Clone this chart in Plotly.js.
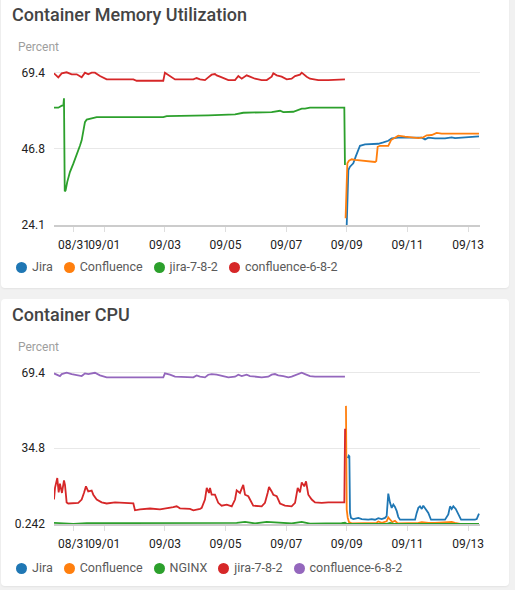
<!DOCTYPE html>
<html>
<head>
<meta charset="utf-8">
<script src="https://cdn.plot.ly/plotly-3.0.1.min.js"></script>
<style>
  html, body {
    margin: 0;
    padding: 0;
    width: 515px;
    height: 590px;
    overflow: hidden;
    background: #f1f1f1;
    font-family: Roboto, sans-serif;
  }
  .card {
    position: absolute;
    left: 1px;
    width: 508px;
    background: #fff;
    border-radius: 4px;
    box-shadow: 0 1px 2px rgba(0, 0, 0, 0.06);
  }
  #mem-card { top: -6px; height: 294px; }
  #cpu-card { top: 299px; height: 287px; }
  .chart { position: absolute; left: 0; top: 0; }
  .legend {
    position: absolute;
    left: 15px;
    display: flex;
    align-items: center;
    font-size: 12.5px;
    line-height: 16px;
    color: #5a5a5a;
    white-space: nowrap;
  }
  #mem-legend { top: 265px; }
  #cpu-legend { top: 261px; }
  .legend .item { display: flex; align-items: center; margin-right: 11px; }
  .legend .dot { width: 11px; height: 11px; border-radius: 50%; margin-right: 5px; }
</style>
</head>
<body>
<div class="card" id="mem-card">
  <div class="chart" id="mem-chart"></div>
  <div class="legend" id="mem-legend"></div>
</div>
<div class="card" id="cpu-card">
  <div class="chart" id="cpu-chart"></div>
  <div class="legend" id="cpu-legend"></div>
</div>
<script>
// Date axis ticks shared by both charts
const dayTicks = ['2019-08-31', '2019-09-01', '2019-09-03', '2019-09-05', '2019-09-07', '2019-09-09', '2019-09-11', '2019-09-13'];
const timeRange = ['2019-08-30 08:12', '2019-09-13 09:24'];

/*
  Container Memory Utilization (percent)
*/
const memJiraTime = ['2019-09-08 23:54', '2019-09-09 01:12', '2019-09-09 02:30', '2019-09-09 05:06', '2019-09-09 07:00', '2019-09-09 08:36',
  '2019-09-09 10:24', '2019-09-09 14:24', '2019-09-10 00:54', '2019-09-10 04:54', '2019-09-10 08:48', '2019-09-10 11:30',
  '2019-09-10 16:42', '2019-09-11 11:18', '2019-09-11 13:54', '2019-09-11 16:30', '2019-09-11 21:48', '2019-09-12 05:42',
  '2019-09-12 11:00', '2019-09-12 13:36', '2019-09-13 00:06', '2019-09-13 08:36'];
const memJiraPct = [24.1, 40.4, 41.4, 42.4, 44.4, 45.8, 47.6, 48.0, 48.2, 48.6, 49.1, 49.8, 50.0, 50.0, 49.5, 50.0, 49.8, 49.8, 50.1, 49.9, 50.3, 50.4];

const memConfTime = ['2019-09-08 23:00', '2019-09-09 00:24', '2019-09-09 01:42', '2019-09-09 03:48', '2019-09-09 06:30', '2019-09-09 11:48',
  '2019-09-09 17:00', '2019-09-09 22:18', '2019-09-09 23:18', '2019-09-10 00:24', '2019-09-10 02:12', '2019-09-10 08:48',
  '2019-09-10 11:00', '2019-09-10 14:06', '2019-09-10 16:42', '2019-09-10 22:00', '2019-09-11 08:36', '2019-09-11 12:30',
  '2019-09-11 15:12', '2019-09-11 19:12', '2019-09-11 23:06', '2019-09-12 03:06', '2019-09-12 08:18', '2019-09-12 09:42',
  '2019-09-12 13:36', '2019-09-13 08:36'];
const memConfPct = [26.1, 42.4, 43.2, 43.6, 43.4, 43.2, 42.9, 42.8, 43.1, 47.3, 47.6, 47.6, 49.3, 50.0, 50.6, 50.3, 49.9, 50.1,
  50.7, 50.8, 51.4, 51.2, 51.2, 51.0, 51.2, 51.2];

const memJira782Time = ['2019-08-30 08:12', '2019-08-30 11:36', '2019-08-30 12:54', '2019-08-30 14:18', '2019-08-30 15:36', '2019-08-30 16:06',
  '2019-08-30 16:42', '2019-08-30 17:24', '2019-08-30 18:42', '2019-08-30 20:48', '2019-08-30 23:30', '2019-08-31 02:12',
  '2019-08-31 04:48', '2019-08-31 06:06', '2019-08-31 07:24', '2019-08-31 08:42', '2019-08-31 10:06', '2019-08-31 14:00',
  '2019-08-31 18:00', '2019-09-02 22:42', '2019-09-03 01:24', '2019-09-04 10:18', '2019-09-05 07:30', '2019-09-05 14:00',
  '2019-09-06 12:30', '2019-09-06 19:06', '2019-09-06 21:42', '2019-09-07 05:36', '2019-09-07 09:36', '2019-09-07 12:18',
  '2019-09-07 14:54', '2019-09-07 18:48', '2019-09-08 22:00', '2019-09-08 22:30'];
const memJira782Pct = [58.9, 58.9, 59.2, 59.5, 59.5, 61.7, 34.1, 34.4, 36.9, 39.8, 42.3, 44.8, 47.7, 49.2, 52.1, 54.6, 55.4, 55.8,
  56.1, 56.1, 56.4, 56.6, 56.9, 57.4, 57.6, 58.0, 57.6, 57.7, 58.2, 58.6, 58.6, 58.9, 58.9, 41.9];

const memConf682Time = ['2019-08-30 08:12', '2019-08-30 11:36', '2019-08-30 14:18', '2019-08-30 18:12', '2019-08-30 22:12', '2019-08-31 02:12',
  '2019-08-31 06:06', '2019-08-31 07:24', '2019-08-31 08:42', '2019-08-31 11:18', '2019-08-31 14:00', '2019-08-31 16:36',
  '2019-08-31 20:36', '2019-09-01 01:54', '2019-09-01 23:00', '2019-09-02 01:36', '2019-09-02 22:42', '2019-09-03 00:00',
  '2019-09-03 04:00', '2019-09-03 08:00', '2019-09-03 22:30', '2019-09-04 01:06', '2019-09-04 03:48', '2019-09-04 07:42',
  '2019-09-04 10:18', '2019-09-04 13:00', '2019-09-04 15:36', '2019-09-04 17:00', '2019-09-04 19:36', '2019-09-04 23:30',
  '2019-09-05 02:12', '2019-09-05 07:30', '2019-09-05 10:06', '2019-09-05 12:48', '2019-09-05 16:42', '2019-09-05 19:18',
  '2019-09-05 23:18', '2019-09-06 04:36', '2019-09-06 08:36', '2019-09-06 12:30', '2019-09-06 13:48', '2019-09-06 16:30',
  '2019-09-06 20:24', '2019-09-07 00:24', '2019-09-07 04:18', '2019-09-07 07:00', '2019-09-07 10:54', '2019-09-07 12:18',
  '2019-09-07 13:30', '2019-09-07 16:12', '2019-09-07 18:48', '2019-09-07 22:48', '2019-09-08 01:24', '2019-09-08 09:18',
  '2019-09-08 22:30'];
const memConf682Pct = [69.1, 67.9, 69.1, 69.4, 68.8, 68.8, 67.9, 68.5, 69.3, 68.8, 69.3, 69.3, 68.3, 67.3, 67.3, 66.9, 66.9, 69.3,
  68.3, 67.3, 67.3, 67.7, 67.3, 67.1, 67.9, 68.7, 68.9, 68.5, 68.1, 67.5, 67.1, 67.1, 68.3, 67.5, 68.5, 68.1,
  67.5, 67.1, 67.1, 68.1, 69.1, 68.5, 68.1, 67.3, 67.5, 68.3, 68.7, 69.3, 68.9, 68.1, 67.5, 67.3, 67.1, 67.1, 67.3];

const memTicks = [24.1, 46.8, 69.4];
const memNames = ['Jira', 'Confluence', 'jira-7-8-2', 'confluence-6-8-2'];
const memColors = ['#1f77b4', '#ff7f0e', '#2ca02c', '#d62728'];

/*
  Container CPU (percent)
*/
const cpuJiraTime = ['2019-09-09 00:42', '2019-09-09 01:30', '2019-09-09 02:00', '2019-09-09 02:30', '2019-09-09 03:18', '2019-09-09 05:06',
  '2019-09-09 09:06', '2019-09-09 11:48', '2019-09-09 17:00', '2019-09-09 19:42', '2019-09-09 22:18', '2019-09-10 00:54',
  '2019-09-10 03:36', '2019-09-10 06:12', '2019-09-10 07:30', '2019-09-10 08:48', '2019-09-10 10:12', '2019-09-10 11:30',
  '2019-09-10 12:48', '2019-09-10 14:06', '2019-09-10 15:30', '2019-09-10 16:42', '2019-09-10 18:06', '2019-09-11 06:00',
  '2019-09-11 07:18', '2019-09-11 08:36', '2019-09-11 09:54', '2019-09-11 11:18', '2019-09-11 12:30', '2019-09-11 13:54',
  '2019-09-11 16:30', '2019-09-11 18:36', '2019-09-12 05:42', '2019-09-12 08:18', '2019-09-12 09:42', '2019-09-12 11:00',
  '2019-09-12 12:18', '2019-09-12 14:12', '2019-09-12 16:12', '2019-09-12 18:24', '2019-09-13 05:24', '2019-09-13 06:48',
  '2019-09-13 08:36'];
const cpuJiraPct = [30.3, 31.4, 31.1, 5.3, 3.0, 2.5, 3.0, 2.5, 2.2, 2.5, 2.2, 2.9, 2.5, 3.0, 3.8, 14.1, 9.9, 7.6, 9.1, 8.0, 6.1,
  3.5, 2.2, 2.2, 5.3, 7.6, 8.3, 7.1, 8.6, 7.6, 5.3, 2.2, 2.2, 4.6, 8.3, 7.1, 8.3, 7.1, 5.0, 2.2, 2.2, 2.5, 5.0];

const cpuConfTime = ['2019-09-08 23:18', '2019-09-08 23:54', '2019-09-09 00:42', '2019-09-09 01:42', '2019-09-09 03:48', '2019-09-09 17:00',
  '2019-09-09 23:36', '2019-09-10 00:54', '2019-09-10 03:36', '2019-09-10 07:30', '2019-09-10 08:48', '2019-09-10 10:12',
  '2019-09-10 12:00', '2019-09-10 14:06', '2019-09-10 16:18', '2019-09-11 08:36', '2019-09-11 11:18', '2019-09-11 16:30',
  '2019-09-11 21:48', '2019-09-12 08:18', '2019-09-12 11:00', '2019-09-12 13:36', '2019-09-12 17:36', '2019-09-13 08:36'];
const cpuConfPct = [54.1, 6.8, 3.1, 1.1, 0.5, 0.5, 0.8, 1.4, 0.8, 1.5, 3.2, 2.3, 1.1, 1.7, 0.5, 0.8, 1.1, 0.8, 0.7, 1.1, 1.2, 0.8, 0.3, 0.3];

const cpuNginxTime = ['2019-08-30 08:12', '2019-08-30 23:30', '2019-08-31 10:06', '2019-09-04 03:48', '2019-09-05 08:48', '2019-09-05 15:24',
  '2019-09-05 23:18', '2019-09-06 08:36', '2019-09-06 17:42', '2019-09-07 04:18', '2019-09-07 12:18', '2019-09-07 18:48',
  '2019-09-08 19:54', '2019-09-08 22:30', '2019-09-08 23:54', '2019-09-10 07:30', '2019-09-10 10:12', '2019-09-10 12:48',
  '2019-09-13 08:36'];
const cpuNginxPct = [0.8, 0.3, 0.6, 0.5, 0.8, 1.2, 0.5, 1.2, 0.8, 0.5, 1.2, 0.4, 0.6, 0.8, 0.3, 0.3, 0.7, 0.3, 0.3];

const cpuJira782Time = ['2019-08-30 08:12', '2019-08-30 09:00', '2019-08-30 10:48', '2019-08-30 11:54', '2019-08-30 12:54', '2019-08-30 14:30',
  '2019-08-30 16:06', '2019-08-30 16:54', '2019-08-30 18:12', '2019-08-30 19:30', '2019-08-31 03:24', '2019-08-31 06:06',
  '2019-08-31 07:54', '2019-08-31 09:30', '2019-08-31 11:18', '2019-08-31 14:00', '2019-08-31 15:18', '2019-08-31 18:00',
  '2019-08-31 21:54', '2019-09-01 01:54', '2019-09-01 08:30', '2019-09-01 12:24', '2019-09-01 23:00', '2019-09-02 00:18',
  '2019-09-02 04:18', '2019-09-02 12:12', '2019-09-02 20:06', '2019-09-03 06:36', '2019-09-03 09:18', '2019-09-03 11:54',
  '2019-09-03 19:48', '2019-09-03 22:30', '2019-09-04 03:48', '2019-09-04 05:06', '2019-09-04 07:42', '2019-09-04 09:06',
  '2019-09-04 10:54', '2019-09-04 11:42', '2019-09-04 13:00', '2019-09-04 15:36', '2019-09-04 18:12', '2019-09-04 20:54',
  '2019-09-05 00:54', '2019-09-05 04:54', '2019-09-05 07:30', '2019-09-05 08:48', '2019-09-05 11:24', '2019-09-05 14:00',
  '2019-09-05 15:24', '2019-09-05 18:00', '2019-09-05 20:42', '2019-09-05 21:54', '2019-09-06 04:36', '2019-09-06 07:12',
  '2019-09-06 09:18', '2019-09-06 10:24', '2019-09-06 12:30', '2019-09-06 13:48', '2019-09-06 16:30', '2019-09-06 19:06',
  '2019-09-06 23:00', '2019-09-07 04:18', '2019-09-07 07:00', '2019-09-07 09:06', '2019-09-07 10:54', '2019-09-07 12:18',
  '2019-09-07 14:18', '2019-09-07 15:42', '2019-09-07 17:30', '2019-09-07 20:12', '2019-09-07 22:48', '2019-09-08 04:06',
  '2019-09-08 09:18', '2019-09-08 19:54', '2019-09-08 22:00', '2019-09-08 22:36'];
const cpuJira782Pct = [11.4, 16.7, 21.2, 14.7, 18.6, 14.4, 20.1, 18.1, 10.1, 9.6, 9.9, 11.4, 14.4, 17.4, 15.1, 15.5, 13.6, 11.4,
  10.1, 9.6, 10.1, 9.9, 9.6, 6.5, 6.9, 7.3, 6.9, 7.9, 8.3, 7.4, 7.1, 6.5, 7.1, 7.6, 11.4, 16.7, 14.4, 16.7, 13.6, 13.6,
  9.9, 8.6, 9.1, 8.3, 11.4, 15.6, 14.4, 18.1, 13.6, 12.9, 9.9, 8.6, 8.3, 9.9, 14.4, 17.1, 15.1, 13.6, 12.9, 9.6,
  8.6, 8.3, 9.9, 16.7, 14.7, 19.2, 17.4, 19.7, 13.6, 11.4, 10.1, 9.9, 10.1, 9.9, 10.1, 43.7];

const cpuConf682Time = ['2019-08-30 08:12', '2019-08-30 12:54', '2019-08-30 14:18', '2019-08-30 18:12', '2019-08-30 22:12', '2019-08-31 02:12',
  '2019-08-31 06:06', '2019-08-31 07:24', '2019-08-31 08:42', '2019-08-31 11:18', '2019-08-31 14:00', '2019-08-31 16:36',
  '2019-08-31 20:36', '2019-09-01 01:54', '2019-09-02 22:42', '2019-09-03 00:00', '2019-09-03 04:00', '2019-09-03 08:00',
  '2019-09-03 22:30', '2019-09-04 01:06', '2019-09-04 03:48', '2019-09-04 07:42', '2019-09-04 10:18', '2019-09-04 13:00',
  '2019-09-04 17:00', '2019-09-04 19:36', '2019-09-04 23:30', '2019-09-05 02:12', '2019-09-05 07:30', '2019-09-05 10:06',
  '2019-09-05 12:48', '2019-09-05 16:42', '2019-09-05 19:18', '2019-09-05 23:18', '2019-09-06 04:36', '2019-09-06 09:48',
  '2019-09-06 12:30', '2019-09-06 15:06', '2019-09-06 17:42', '2019-09-06 21:42', '2019-09-07 01:42', '2019-09-07 04:18',
  '2019-09-07 07:00', '2019-09-07 10:54', '2019-09-07 12:18', '2019-09-07 14:54', '2019-09-07 18:48', '2019-09-07 22:48',
  '2019-09-08 22:30'];
const cpuConf682Pct = [68.9, 67.7, 68.6, 69.2, 68.6, 68.3, 67.7, 68.3, 68.9, 68.6, 68.9, 69.2, 68.0, 67.1, 67.1, 68.9, 68.3, 67.4,
  67.1, 68.0, 67.4, 67.1, 68.3, 68.6, 68.3, 68.0, 67.4, 67.1, 67.4, 68.3, 67.7, 68.3, 67.7, 67.4, 67.1, 67.4,
  68.3, 68.6, 68.0, 67.7, 67.1, 67.4, 68.0, 68.9, 69.2, 68.6, 67.7, 67.4, 67.4];

const cpuTicks = [0.242, 34.8, 69.4];
const cpuNames = ['Jira', 'Confluence', 'NGINX', 'jira-7-8-2', 'confluence-6-8-2'];
const cpuColors = ['#1f77b4', '#ff7f0e', '#2ca02c', '#d62728', '#9467bd'];

var config = { staticPlot: true, displayModeBar: false };

function lineTrace(name, x, y, color) {
  return {
    type: 'scatter',
    mode: 'lines',
    name: name,
    x: x,
    y: y,
    line: { color: color, width: 1.8 },
    hoverinfo: 'skip',
  };
}

// Shared card layout: title, "Percent" label, date axis and min/mid/max y ticks
function cardLayout(title, w, h, margin, yRange, yTicks) {
  var plotW = w - margin.l - margin.r;
  var plotH = h - margin.t - margin.b;
  return {
    width: w,
    height: h,
    margin: margin,
    paper_bgcolor: 'rgba(0,0,0,0)',
    plot_bgcolor: 'rgba(0,0,0,0)',
    showlegend: false,
    font: { family: 'Roboto, sans-serif', size: 12, color: '#212121' },
    title: {
      text: title,
      xref: 'container',
      yref: 'container',
      x: 11 / w,
      xanchor: 'left',
      y: 1 - (margin.t - 47) / h,
      yanchor: 'middle',
      font: { size: 18, weight: 500, color: '#444444' },
    },
    xaxis: {
      type: 'date',
      range: timeRange,
      tickvals: dayTicks,
      tickformat: '%m/%d',
      tickangle: 0,
      ticks: 'outside',
      ticklen: 5,
      tickcolor: '#dedede',
      ticklabelstandoff: 3,
      showline: true,
      linecolor: '#cccccc',
      linewidth: 2,
      showgrid: false,
      zeroline: false,
    },
    yaxis: {
      range: yRange,
      tickvals: yTicks,
      ticks: '',
      showline: false,
      showgrid: true,
      gridcolor: '#e8e8e8',
      zeroline: false,
      ticklabelstandoff: 8,
    },
    annotations: [
      {
        text: 'Percent',
        xref: 'paper',
        yref: 'paper',
        x: (15 - margin.l) / plotW,
        y: (plotH + 15.5) / plotH,
        xanchor: 'left',
        yanchor: 'middle',
        showarrow: false,
        font: { size: 12, color: '#9e9e9e' },
      },
    ],
  };
}

function buildLegend(divId, names, colors) {
  var legendDiv = document.getElementById(divId);
  names.forEach((name, i) => {
    var item = document.createElement('span');
    item.className = 'item';
    item.innerHTML = `<span class="dot" style="background:${colors[i]}"></span><span>${name}</span>`;
    legendDiv.appendChild(item);
  });
}

var memTraces = [
  lineTrace(memNames[0], memJiraTime, memJiraPct, memColors[0]),
  lineTrace(memNames[1], memConfTime, memConfPct, memColors[1]),
  lineTrace(memNames[2], memJira782Time, memJira782Pct, memColors[2]),
  lineTrace(memNames[3], memConf682Time, memConf682Pct, memColors[3]),
];

var cpuTraces = [
  lineTrace(cpuNames[0], cpuJiraTime, cpuJiraPct, cpuColors[0]),
  lineTrace(cpuNames[1], cpuConfTime, cpuConfPct, cpuColors[1]),
  lineTrace(cpuNames[2], cpuNginxTime, cpuNginxPct, cpuColors[2]),
  lineTrace(cpuNames[3], cpuJira782Time, cpuJira782Pct, cpuColors[3]),
  lineTrace(cpuNames[4], cpuConf682Time, cpuConf682Pct, cpuColors[4]),
];

Plotly.newPlot('mem-chart', memTraces,
  cardLayout('Container Memory Utilization', 508, 294, { l: 53, r: 29, t: 68, b: 63 }, [24.1, 72.46], memTicks), config);
Plotly.newPlot('cpu-chart', cpuTraces,
  cardLayout('Container CPU', 508, 287, { l: 53, r: 29, t: 63, b: 62 }, [0.242, 74.1], cpuTicks), config);

buildLegend('mem-legend', memNames, memColors);
buildLegend('cpu-legend', cpuNames, cpuColors);
</script>
</body>
</html>
